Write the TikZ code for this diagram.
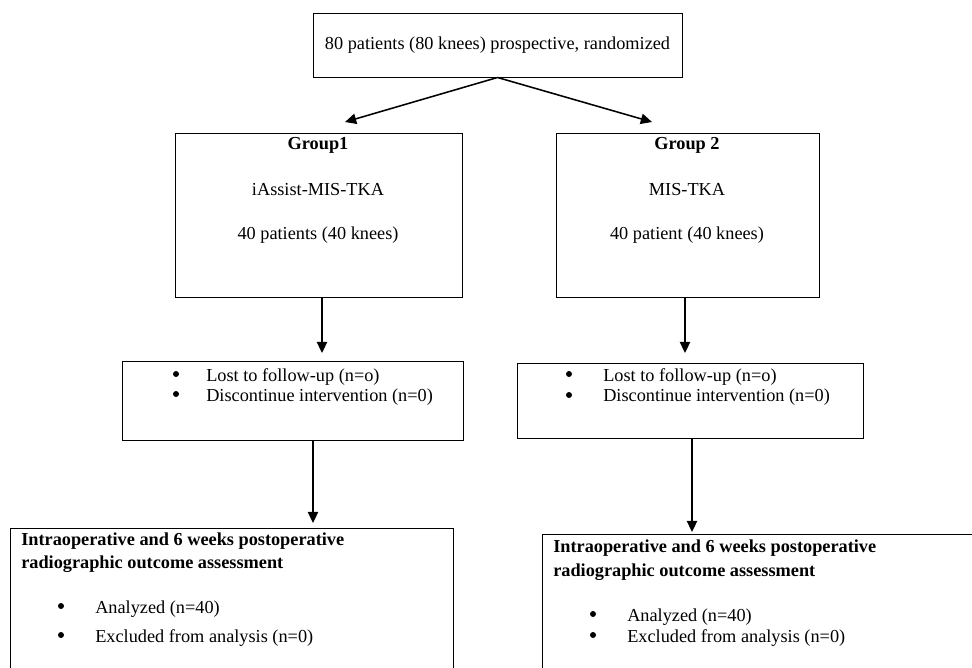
\documentclass[tikz,border=0pt]{standalone}
\usepackage{fontspec}
\setmainfont{Liberation Serif}
\usetikzlibrary{%
  arrows.meta,%
  fit%
}
\tikzset{
  box/.style={draw,line width=0.7pt,inner sep=0pt},
  arr/.style={line width=1.1pt,-{Triangle[length=0.28cm,width=0.26cm]}},
  txt/.style={inner sep=0pt,font=\fontsize{13}{15}\selectfont},
  hd/.style={inner sep=0pt,font=\fontsize{13}{15}\selectfont\bfseries},
  dot/.style={circle,fill,inner sep=0pt,minimum size=0.15cm}
}

\begin{document}
\begin{tikzpicture}[x=0.025cm,y=-0.025cm]
  \clip (0,0) rectangle (972,668);
  % boxes
  \node[box,fit={(313,13) (682,77)}] (top) {};
  \node[box,fit={(175,133) (462,297)}] (g1) {};
  \node[box,fit={(556,133) (819,297)}] (g2) {};
  \node[box,fit={(122,361) (463,440)}] (l1) {};
  \node[box,fit={(517,363) (863,438)}] (l2) {};
  \node[box,fit={(10,528) (453,720)}] (r1) {};
  \node[box,fit={(542,534) (1000,720)}] (r2) {};
  % texts
  \node[txt] (topt) at (top) {80 patients (80 knees) prospective, randomized};
  \node[hd] (g1a) at (318,145) {Group1};
  \node[txt] (g1b) at (318,190) {iAssist-MIS-TKA};
  \node[txt] (g1c) at (318,235) {40 patients (40 knees)};
  \node[hd] (g2a) at (687,145) {Group 2};
  \node[txt] (g2b) at (687,190) {MIS-TKA};
  \node[txt] (g2c) at (687,235) {40 patient (40 knees)};
  \node[dot] (l1p) at (176,374) {};
  \node[txt,anchor=west] (l1a) at (206,377) {Lost to follow-up (n=o)};
  \node[dot] (l1q) at (176,394) {};
  \node[txt,anchor=west] (l1b) at (206,397) {Discontinue intervention (n=0)};
  \node[dot] (l2p) at (569,374) {};
  \node[txt,anchor=west] (l2a) at (603,377) {Lost to follow-up (n=o)};
  \node[dot] (l2q) at (569,395) {};
  \node[txt,anchor=west] (l2b) at (603,397) {Discontinue intervention (n=0)};
  \node[hd,anchor=west] (r1a) at (21,541) {Intraoperative and 6 weeks postoperative};
  \node[hd,anchor=west] (r1b) at (21,564) {radiographic outcome assessment};
  \node[dot] (r1p) at (61,606) {};
  \node[txt,anchor=west] (r1c) at (95,609) {Analyzed (n=40)};
  \node[dot] (r1q) at (61,635) {};
  \node[txt,anchor=west] (r1d) at (95,638) {Excluded from analysis (n=0)};
  \node[hd,anchor=west] (r2a) at (553,548) {Intraoperative and 6 weeks postoperative};
  \node[hd,anchor=west] (r2b) at (553,572) {radiographic outcome assessment};
  \node[dot] (r2p) at (593,614) {};
  \node[txt,anchor=west] (r2c) at (627,617) {Analyzed (n=40)};
  \node[dot] (r2q) at (593,635) {};
  \node[txt,anchor=west] (r2d) at (627,638) {Excluded from analysis (n=0)};
  % arrows
  \coordinate (g1in) at (345,122);
  \coordinate (g2in) at (652,122);
  \draw[arr] (top.south) -- (g1in);
  \draw[arr] (top.south) -- (g2in);
  \coordinate (l1in) at (322,353);
  \coordinate (l2in) at (685,353);
  \draw[arr] (l1in |- g1.south) -- (l1in);
  \draw[arr] (l2in |- g2.south) -- (l2in);
  \coordinate (r1in) at (313,523);
  \coordinate (r2in) at (692,532);
  \draw[arr] (r1in |- l1.south) -- (r1in);
  \draw[arr] (r2in |- l2.south) -- (r2in);
\end{tikzpicture}
\end{document}
